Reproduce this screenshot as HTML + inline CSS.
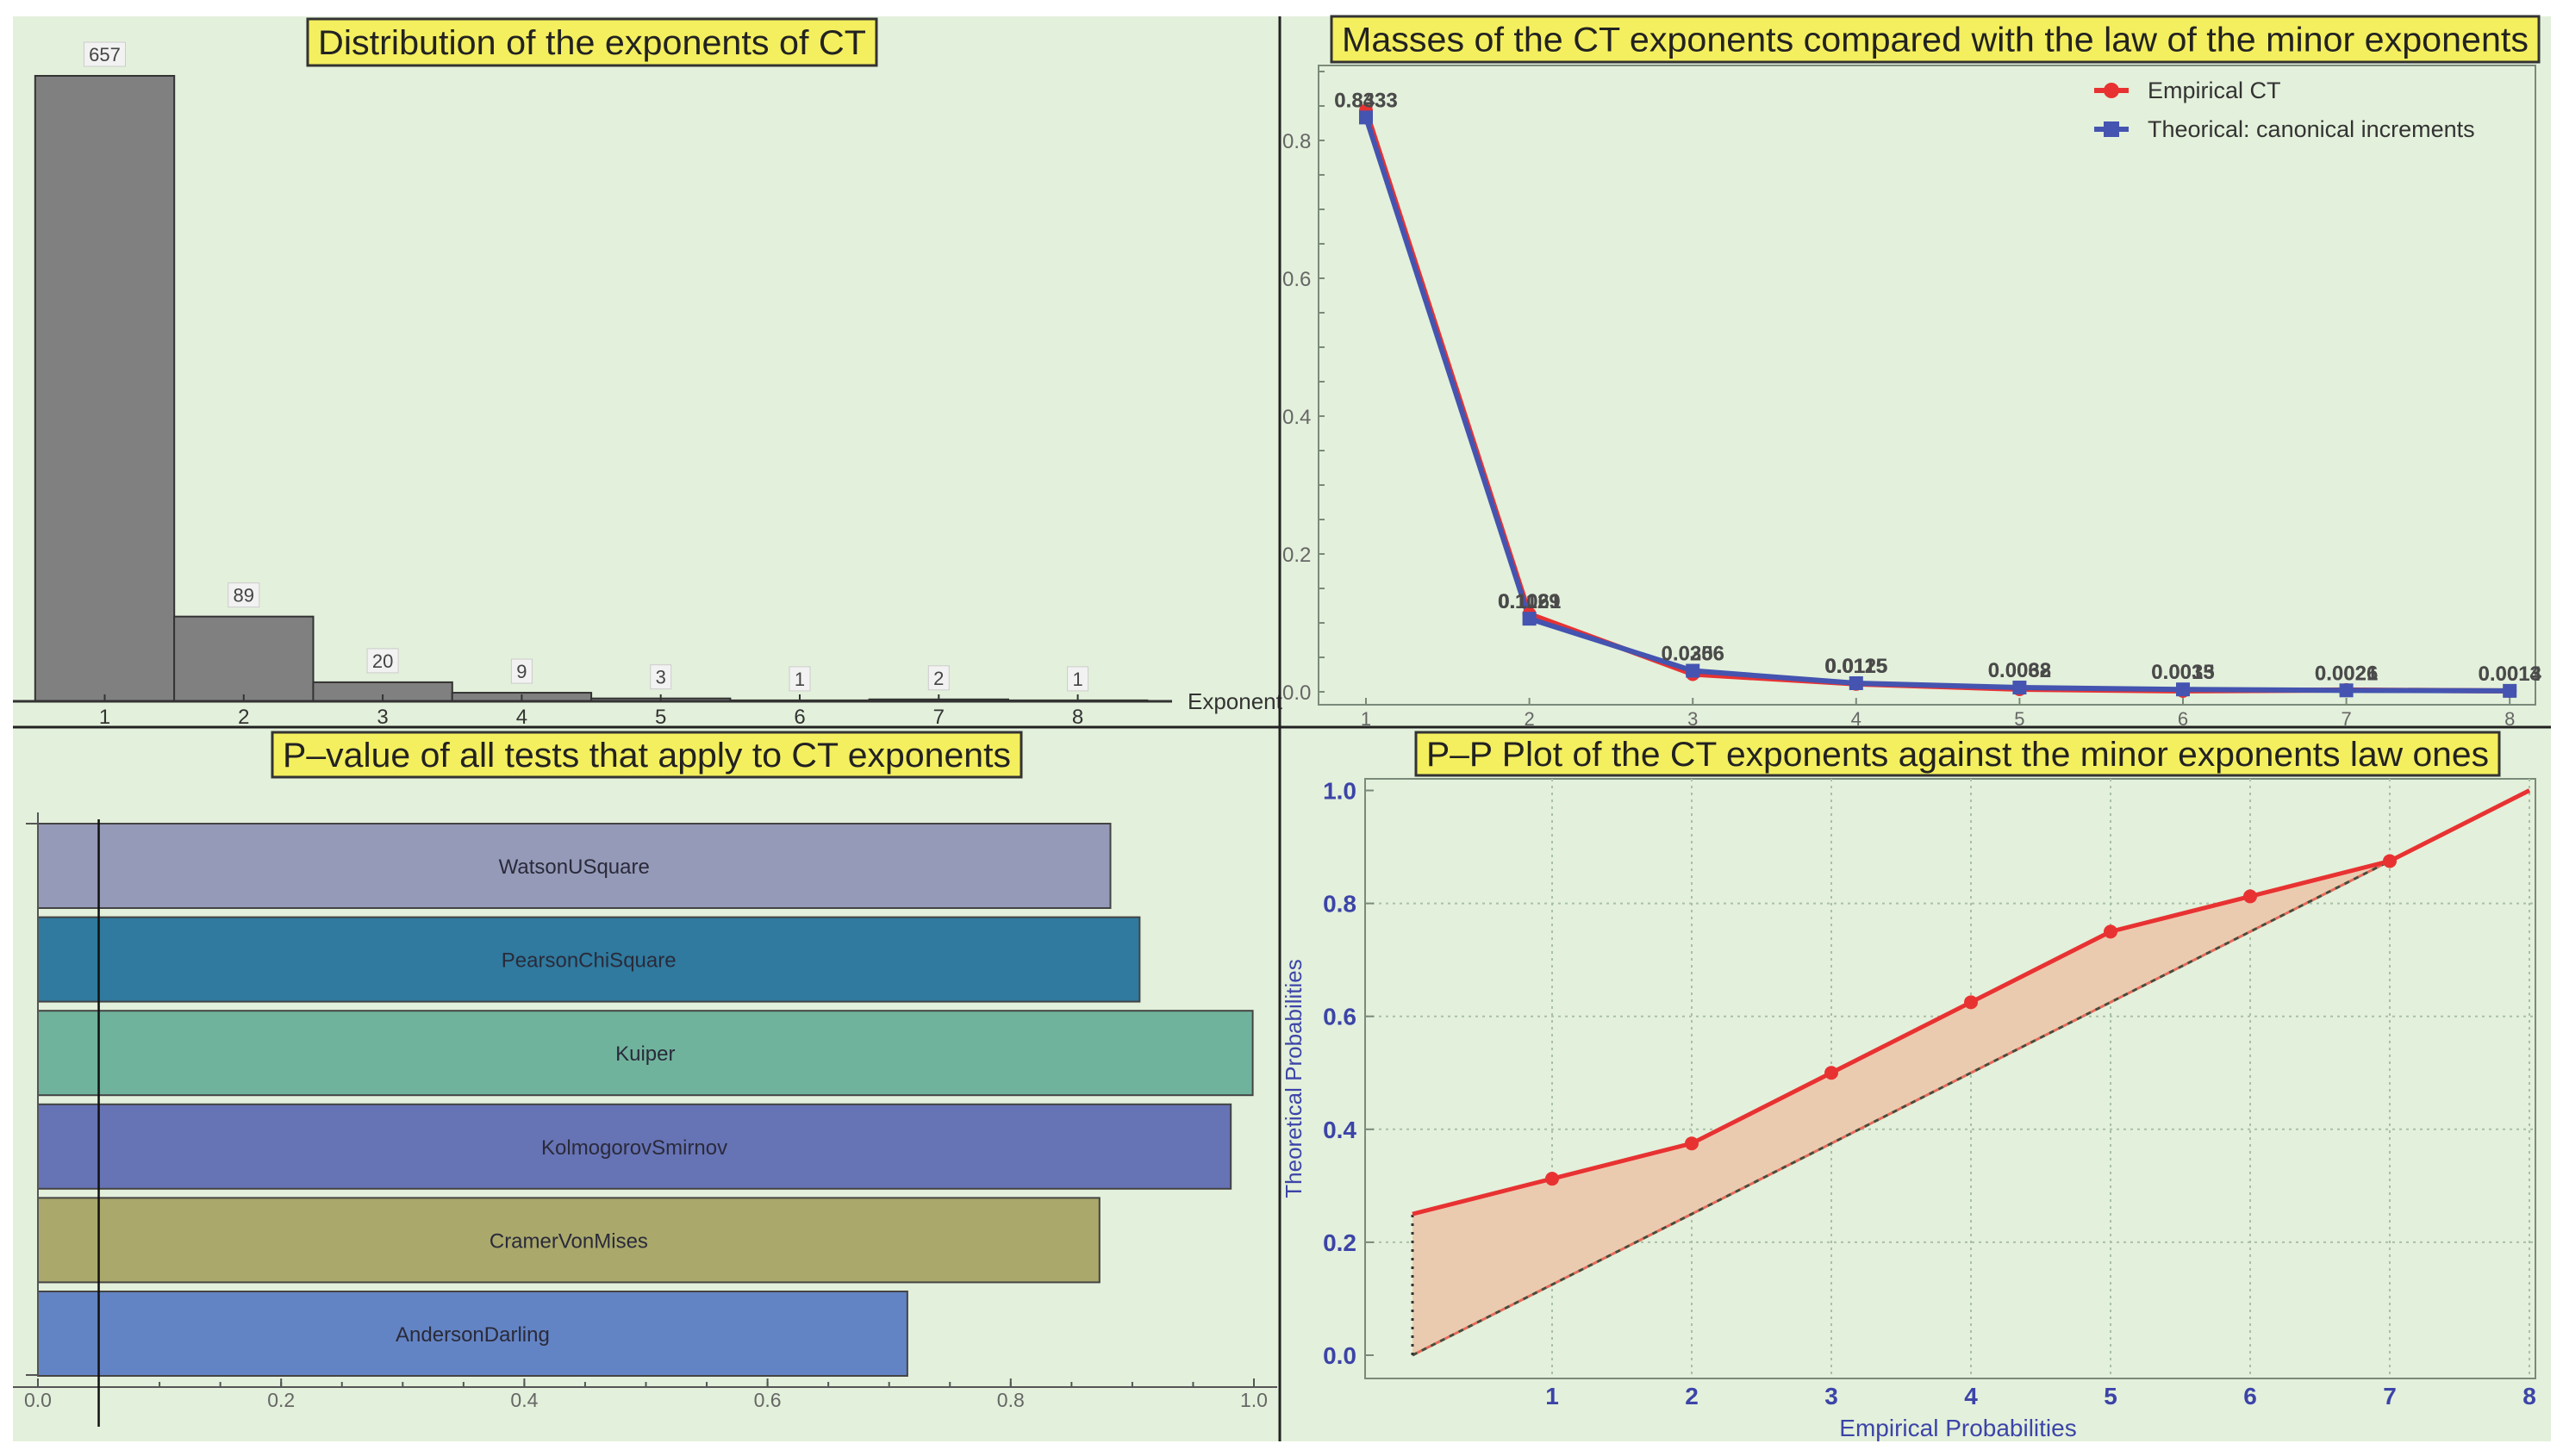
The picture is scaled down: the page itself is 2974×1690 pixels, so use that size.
<!DOCTYPE html>
<html><head><meta charset="utf-8">
<style>
html,body{margin:0;padding:0;background:#fff;}
svg{display:block;}
text{font-family:"Liberation Sans Narrow","Liberation Sans",sans-serif;}
</style></head>
<body>
<svg id="s" width="2974" height="1690" viewBox="0 0 2974 1690" xmlns="http://www.w3.org/2000/svg">
<rect x="15" y="19" width="2945" height="1654" fill="#e3f0db"/>
<g id="p1"></g>
<g id="p2"></g>
<g id="p3"></g>
<g id="p4"></g>
<line x1="1485" y1="19" x2="1485" y2="1673" stroke="#222" stroke-width="3"/>
<line x1="15" y1="844" x2="2960" y2="844" stroke="#222" stroke-width="3"/>
</svg>
<script>
// ---- data ----
const histCategories = [1,2,3,4,5,6,7,8];
const histCounts = [657,89,20,9,3,1,2,1];
const massCategories = [1,2,3,4,5,6,7,8];
const massEmpirical = [0.8433,0.1129,0.0256,0.0115,0.0038,0.0013,0.0026,0.0013];
const massTheoretical = [0.8333,0.1061,0.0306,0.0125,0.0062,0.0035,0.0021,0.0014];
const massYTicks = [0.0,0.2,0.4,0.6,0.8];
const testNames = ["WatsonUSquare","PearsonChiSquare","Kuiper","KolmogorovSmirnov","CramerVonMises","AndersonDarling"];
const testPValues = [0.882,0.906,0.999,0.981,0.873,0.715];
const testColors = ["#959ab8","#2f7a9e","#70b39c","#6673b5","#aaa96b","#6384c4"];
const pvalTicks = [0.0,0.2,0.4,0.6,0.8,1.0];
const ppX = [0,1,2,3,4,5,6,7,8];
const ppEmpirical = [0.25,0.3125,0.375,0.5,0.625,0.75,0.8125,0.875,1.0];
const ppDiagonal = [0,0.125,0.25,0.375,0.5,0.625,0.75,0.875,1.0];
const ppYTicks = [0.0,0.2,0.4,0.6,0.8,1.0];
const ppXTicks = [1,2,3,4,5,6,7,8];

const NS="http://www.w3.org/2000/svg";
function mk(parent,tag,attrs,txt){const e=document.createElementNS(NS,tag);for(const k in attrs)e.setAttribute(k,attrs[k]);if(txt!==undefined)e.textContent=txt;parent.appendChild(e);return e;}

function title(g,x,y,w,h,t,name){
  const r=mk(g,'rect',{x:x,y:y,width:w,height:h,fill:'#f4ef5e',stroke:'#333','stroke-width':3});
  
  
  const tx=mk(g,'text',{x:x+w/2,y:y+h/2+14,'text-anchor':'middle','font-size':40,fill:'#222',textLength:w-24,lengthAdjust:'spacingAndGlyphs'},t);
  
  
}

// ---- Panel 1: histogram ----
(function(){
  const g=document.getElementById('p1');
  const base=814, perCount=1.105, bw=161.4;
  const xc=k=>121.5+(k-1)*161.3;
  title(g,357,22,660,54,'Distribution of the exponents of CT','histogram-title');
  histCategories.forEach((c,i)=>{
    const h=histCounts[i]*perCount, top=base-h;
    const b=mk(g,'rect',{x:xc(c)-bw/2,y:top,width:bw,height:Math.max(h,1.5),fill:'#808080',stroke:'#333','stroke-width':2});
    
    
    const ly=Math.min(top-25,790);
    const lw=String(histCounts[i]).length*12+12;
    const lb=mk(g,'rect',{x:xc(c)-lw/2,y:ly-14,width:lw,height:28,fill:'#f2f2f2',stroke:'#ccc','stroke-width':1});
    
    
    const lt=mk(g,'text',{x:xc(c),y:ly+8,'text-anchor':'middle','font-size':22,fill:'#444'},histCounts[i]);
    
    
    const tk=mk(g,'line',{x1:xc(c),y1:base-8,x2:xc(c),y2:base,stroke:'#333','stroke-width':2});
    
    
    const tl=mk(g,'text',{x:xc(c),y:840,'text-anchor':'middle','font-size':24,fill:'#333'},c);
    
    
  });
  const ax=mk(g,'line',{x1:15,y1:base,x2:1360,y2:base,stroke:'#333','stroke-width':3});
  
  
  const at=mk(g,'text',{x:1378,y:823,'font-size':26,fill:'#333'},'Exponent');
  
  
})();

// ---- Panel 2: masses ----
(function(){
  const g=document.getElementById('p2');
  const X=k=>1585+(k-1)*189.6, Y=v=>803-v*800;
  title(g,1545,19,1401,53,'Masses of the CT exponents compared with the law of the minor exponents','masses-title');
  const fr=mk(g,'rect',{x:1530,y:76,width:1412,height:742,fill:'none',stroke:'#7a8a7a','stroke-width':2});
  
  
  for(let v=0;v<=0.9001;v+=0.05){
    const t=mk(g,'line',{x1:1530,y1:Y(v),x2:1537,y2:Y(v),stroke:'#7a8a7a','stroke-width':2});
    
    
  }
  massYTicks.forEach(v=>{
    const t=mk(g,'text',{x:1488,y:Y(v)+9,'font-size':24,fill:'#666'},v.toFixed(1));
    
    
  });
  massCategories.forEach(c=>{
    const t=mk(g,'line',{x1:X(c),y1:818,x2:X(c),y2:810,stroke:'#7a8a7a','stroke-width':2});
    
    
    const l=mk(g,'text',{x:X(c),y:842,'text-anchor':'middle','font-size':22,fill:'#666'},c);
    
    
  });
  const pe=massCategories.map((c,i)=>X(c)+','+Y(massEmpirical[i])).join(' ');
  const pt=massCategories.map((c,i)=>X(c)+','+Y(massTheoretical[i])).join(' ');
  const le=mk(g,'polyline',{points:pe,fill:'none',stroke:'#e83232','stroke-width':6});
  
  
  const lt=mk(g,'polyline',{points:pt,fill:'none',stroke:'#4454b0','stroke-width':6});
  
  
  massCategories.forEach((c,i)=>{
    const p=mk(g,'circle',{cx:X(c),cy:Y(massEmpirical[i]),r:8,fill:'#e83232'});
    
    
    const q=mk(g,'rect',{x:X(c)-8,y:Y(massTheoretical[i])-8,width:16,height:16,fill:'#4454b0'});
    
    
    [massEmpirical[i],massTheoretical[i]].forEach(v=>{
      const t=mk(g,'text',{x:X(c),y:Y(massTheoretical[i])-12,'text-anchor':'middle','font-size':24,'font-weight':'bold',fill:'#4a4a4a'},v.toFixed(4));
      
      
    });
  });
  const l1=mk(g,'line',{x1:2430,y1:105,x2:2470,y2:105,stroke:'#e83232','stroke-width':6});
  
  
  const c1=mk(g,'circle',{cx:2450,cy:105,r:9,fill:'#e83232'});
  
  
  const t1=mk(g,'text',{x:2492,y:114,'font-size':27,fill:'#333'},'Empirical CT');
  
  
  const l2=mk(g,'line',{x1:2430,y1:150,x2:2470,y2:150,stroke:'#4454b0','stroke-width':6});
  
  
  const c2=mk(g,'rect',{x:2441,y:141,width:18,height:18,fill:'#4454b0'});
  
  
  const t2=mk(g,'text',{x:2492,y:159,'font-size':27,fill:'#333'},'Theorical: canonical increments');
  
  
})();

// ---- Panel 3: p-values ----
(function(){
  const g=document.getElementById('p3');
  const X=v=>44+v*1411;
  title(g,316,850,869,52,'P\u2013value of all tests that apply to CT exponents','pvalue-title');
  testNames.forEach((n,i)=>{
    const y=956+i*108.6;
    const b=mk(g,'rect',{x:X(0),y:y,width:X(testPValues[i])-X(0),height:98,fill:testColors[i],stroke:'#444','stroke-width':2});
    
    
    const t=mk(g,'text',{x:(X(0)+X(testPValues[i]))/2,y:y+58,'text-anchor':'middle','font-size':24,fill:'#2a2a3a'},n);
    
    
  });
  const ya=mk(g,'line',{x1:44,y1:943,x2:44,y2:1597,stroke:'#555','stroke-width':2});
  
  
  [956,1596].forEach(y=>{const t=mk(g,'line',{x1:30,y1:y,x2:44,y2:y,stroke:'#555','stroke-width':2});
    
    });
  const xa=mk(g,'line',{x1:15,y1:1610,x2:1482,y2:1610,stroke:'#555','stroke-width':2});
  
  
  for(let v=0;v<=1.0001;v+=0.05){
    const t=mk(g,'line',{x1:X(v),y1:1610,x2:X(v),y2:1604,stroke:'#555','stroke-width':2});
    
    
  }
  pvalTicks.forEach(v=>{
    const t=mk(g,'line',{x1:X(v),y1:1610,x2:X(v),y2:1600,stroke:'#555','stroke-width':2});
    
    
    const l=mk(g,'text',{x:X(v),y:1633,'text-anchor':'middle','font-size':23,fill:'#666'},v.toFixed(1));
    
    
  });
  const th=mk(g,'line',{x1:X(0.05),y1:951,x2:X(0.05),y2:1656,stroke:'#111','stroke-width':2.5});
  
  
})();

// ---- Panel 4: P-P plot ----
(function(){
  const g=document.getElementById('p4');
  const X=v=>1639+v*162, Y=v=>1573-v*655.5;
  title(g,1643,850,1257,50,'P\u2013P Plot of the CT exponents against the minor exponents law ones','pp-title');
  const fr=mk(g,'rect',{x:1584,y:904,width:1358,height:696,fill:'none',stroke:'#7a8a7a','stroke-width':2});
  
  
  ppYTicks.forEach(v=>{
    if(v>0&&v<1){const gl=mk(g,'line',{x1:1584,y1:Y(v),x2:2942,y2:Y(v),stroke:'#a9c0a6','stroke-width':2,'stroke-dasharray':'3 5'});
      
      }
    const t=mk(g,'line',{x1:1584,y1:Y(v),x2:1594,y2:Y(v),stroke:'#7a8a7a','stroke-width':2});
    
    
    const l=mk(g,'text',{x:1574,y:Y(v)+10,'text-anchor':'end','font-size':28,'font-weight':'bold',fill:'#3c44a8'},v.toFixed(1));
    
    
  });
  ppXTicks.forEach(v=>{
    const gl=mk(g,'line',{x1:X(v),y1:904,x2:X(v),y2:1600,stroke:'#a9c0a6','stroke-width':2,'stroke-dasharray':'3 5'});
    
    
    const l=mk(g,'text',{x:X(v),y:1630,'text-anchor':'middle','font-size':28,'font-weight':'bold',fill:'#3c44a8'},v);
    
    
  });
  const top=ppX.map((x,i)=>X(x)+','+Y(ppEmpirical[i]));
  const bot=ppX.map((x,i)=>X(x)+','+Y(ppDiagonal[i])).reverse();
  const area=mk(g,'polygon',{points:top.concat(bot).join(' '),fill:'#ebcbb0'});
  
  
  const dg2=mk(g,'polyline',{points:ppX.map((x,i)=>X(x)+','+Y(ppDiagonal[i])).join(' '),fill:'none',stroke:'#e86a5a','stroke-width':3,'stroke-dasharray':'6 6','stroke-dashoffset':6});
  
  
  const dg=mk(g,'polyline',{points:ppX.map((x,i)=>X(x)+','+Y(ppDiagonal[i])).join(' '),fill:'none',stroke:'#4a4a3a','stroke-width':3,'stroke-dasharray':'6 6'});
  
  
  const vl=mk(g,'line',{x1:X(0),y1:Y(ppDiagonal[0]),x2:X(0),y2:Y(ppEmpirical[0]),stroke:'#333','stroke-width':3,'stroke-dasharray':'3 7'});
  
  
  const ln=mk(g,'polyline',{points:top.join(' '),fill:'none',stroke:'#e83232','stroke-width':5});
  
  
  ppX.forEach((x,i)=>{
    if(x<1||x>7)return;
    const p=mk(g,'circle',{cx:X(x),cy:Y(ppEmpirical[i]),r:8,fill:'#e83232'});
    
    
  });
  const yt=mk(g,'text',{x:0,y:0,'text-anchor':'middle','font-size':26,fill:'#3c44a8',transform:'translate(1510,1252) rotate(-90)','font-family':'Liberation Sans, sans-serif'},'Theoretical Probabilities');
  
  
  const xt=mk(g,'text',{x:2272,y:1667,'text-anchor':'middle','font-size':28,fill:'#3c44a8'},'Empirical Probabilities');
  
  
})();
</script>
</body></html>
